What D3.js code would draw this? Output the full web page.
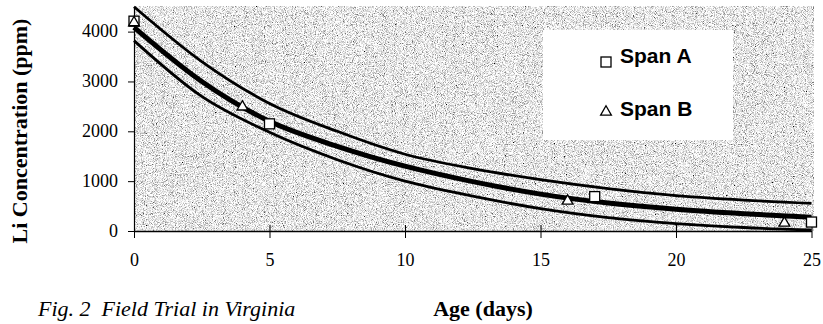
<!DOCTYPE html>
<html>
<head>
<meta charset="utf-8">
<script src="https://cdn.jsdelivr.net/npm/d3@7"></script>
<style>
  body { margin: 0; background: #fff; }
  svg { display: block; }
</style>
</head>
<body>
<div id="chart"></div>
<script>
// values
const days = [0, 2.5, 5, 7.5, 10, 12.5, 15, 17.5, 20, 22.5, 25];
const fitMid   = [4085, 3000, 2200, 1700, 1300, 990, 740, 560, 435, 345, 275];
const fitUpper = [4500, 3400, 2560, 2000, 1540, 1250, 1030, 850, 710, 620, 556];
const fitLower = [3820, 2700, 1980, 1430, 1000, 700, 450, 270, 150, 70, 20];

const spanADays = [0, 5, 17, 25];
const spanAVals = [4210, 2150, 690, 180];
const spanBDays = [0, 4, 16, 24];
const spanBVals = [4200, 2510, 620, 180];

const yTicks = [0, 1000, 2000, 3000, 4000];
const xTicks = [0, 5, 10, 15, 20, 25];

const W = 823, H = 324;
const margin = {top: 6.7, right: 11.5, bottom: 93, left: 134};
const serif = "'Liberation Serif', 'Times New Roman', serif";
const sans = "'Liberation Sans', Arial, sans-serif";

const svg = d3.select("#chart").append("svg")
  .attr("width", W).attr("height", H);

const x = d3.scaleLinear().domain([0, 25]).range([margin.left, W - margin.right]);
const y = d3.scaleLinear().domain([0, 4500]).range([H - margin.bottom, margin.top]);

// stipple background
const defs = svg.append("defs");
const f = defs.append("filter").attr("id", "grain")
  .attr("x", 0).attr("y", 0).attr("width", 1).attr("height", 1);
f.append("feTurbulence").attr("type", "fractalNoise")
  .attr("baseFrequency", 1.1).attr("numOctaves", 2).attr("seed", 4);
f.append("feColorMatrix").attr("type", "matrix")
  .attr("values", "2.2 0 0 0 -0.3  2.2 0 0 0 -0.3  2.2 0 0 0 -0.3  0 0 0 0 1");

svg.append("rect")
  .attr("x", x(0)).attr("y", y(4500))
  .attr("width", x(25) - x(0) + 2).attr("height", y(0) - y(4500))
  .attr("fill", "#cfcfcf")
  .attr("filter", "url(#grain)");

// legend box (white)
svg.append("rect")
  .attr("x", 543).attr("y", 30).attr("width", 190).attr("height", 110)
  .attr("fill", "#fff");

// fitted curves
const line = (vals) => d3.line()
  .x((d, i) => x(days[i]))
  .y(d => y(d))
  .curve(d3.curveMonotoneX)(vals);

svg.append("path").attr("d", line(fitUpper))
  .attr("fill", "none").attr("stroke", "#000").attr("stroke-width", 2.8);
svg.append("path").attr("d", line(fitLower))
  .attr("fill", "none").attr("stroke", "#000").attr("stroke-width", 2.8);
svg.append("path").attr("d", line(fitMid))
  .attr("fill", "none").attr("stroke", "#000").attr("stroke-width", 5);

// axes
const gy = svg.append("g")
  .attr("transform", `translate(${x(0)},0)`)
  .call(d3.axisLeft(y).tickValues(yTicks).tickFormat(d3.format("d"))
    .tickSize(6).tickPadding(10).tickSizeOuter(0));
gy.select(".domain").attr("stroke", "#000").attr("stroke-width", 1.2);
gy.selectAll("text").attr("font-family", serif).attr("font-size", 18).attr("fill", "#000")
  .attr("dy", "0.28em");

const gx = svg.append("g")
  .attr("transform", `translate(0,${y(0)})`)
  .call(d3.axisBottom(x).tickValues(xTicks).tickSize(7).tickSizeOuter(0));
gx.select(".domain").attr("stroke", "#000").attr("stroke-width", 1.5);
gx.selectAll(".tick line").attr("y1", -6).attr("y2", 7);
gx.selectAll("text").attr("font-family", serif).attr("font-size", 18).attr("fill", "#000")
  .attr("y", 35).attr("dy", 0);

// markers
const sq = 10;
svg.append("g").selectAll("rect")
  .data(spanAVals).join("rect")
  .attr("x", (d, i) => x(spanADays[i]) - sq / 2)
  .attr("y", d => y(d) - sq / 2)
  .attr("width", sq).attr("height", sq)
  .attr("fill", "#fff").attr("stroke", "#000").attr("stroke-width", 1.3);

const tri = d3.symbol().type(d3.symbolTriangle).size(50);
svg.append("g").selectAll("path")
  .data(spanBVals).join("path")
  .attr("d", tri)
  .attr("transform", (d, i) => `translate(${x(spanBDays[i])},${y(d) + 1})`)
  .attr("fill", "#fff").attr("stroke", "#000").attr("stroke-width", 1.3);

// legend
svg.append("rect").attr("x", 601).attr("y", 57).attr("width", sq).attr("height", sq)
  .attr("fill", "#fff").attr("stroke", "#000").attr("stroke-width", 1.3);
svg.append("path").attr("d", tri).attr("transform", "translate(606,112)")
  .attr("fill", "#fff").attr("stroke", "#000").attr("stroke-width", 1.3);
svg.append("text").attr("x", 620).attr("y", 63).text("Span A")
  .attr("font-family", sans).attr("font-weight", "bold").attr("font-size", 21);
svg.append("text").attr("x", 620).attr("y", 116).text("Span B")
  .attr("font-family", sans).attr("font-weight", "bold").attr("font-size", 21);

// titles
svg.append("text")
  .attr("transform", "translate(27,131) rotate(-90)")
  .attr("text-anchor", "middle")
  .attr("font-family", serif).attr("font-weight", "bold").attr("font-size", 22)
  .text("Li Concentration (ppm)");
svg.append("text")
  .attr("x", 483).attr("y", 316).attr("text-anchor", "middle")
  .attr("font-family", serif).attr("font-weight", "bold").attr("font-size", 22)
  .text("Age (days)");
svg.append("text")
  .attr("x", 38).attr("y", 316)
  .attr("font-family", serif).attr("font-style", "italic").attr("font-size", 22)
  .attr("xml:space", "preserve")
  .text("Fig. 2  Field Trial in Virginia");
</script>
</body>
</html>
